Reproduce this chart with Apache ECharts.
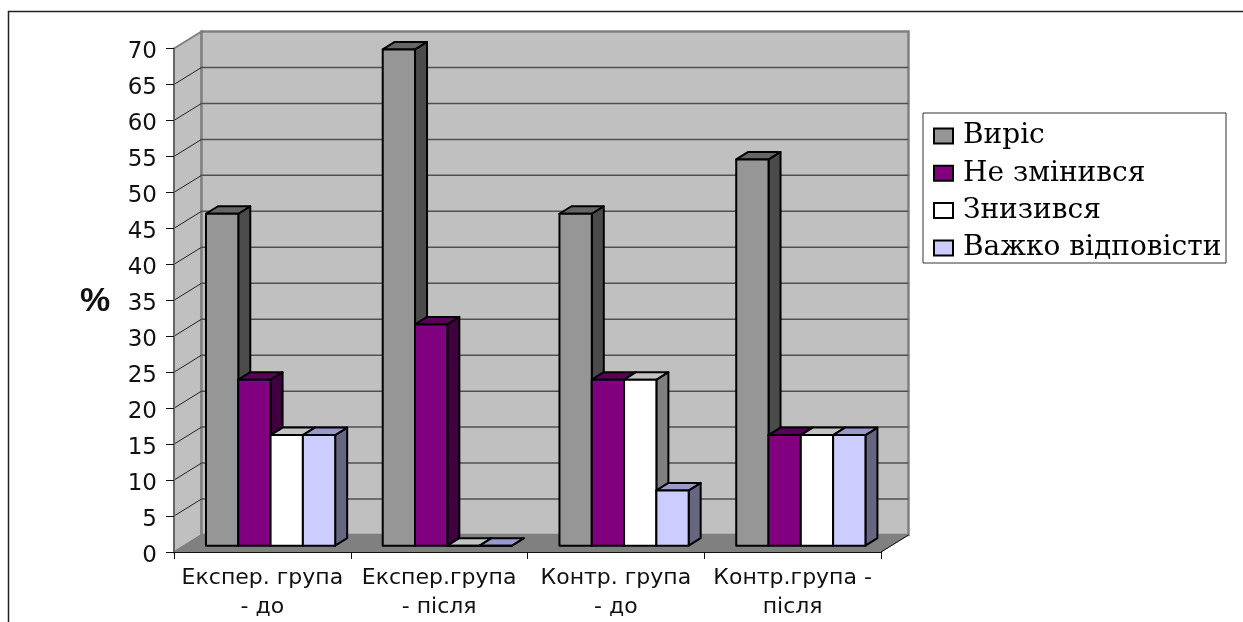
<!DOCTYPE html>
<html><head><meta charset="utf-8">
<style>html,body{margin:0;padding:0;background:#fff}#c{width:1243px;height:622px}</style>
<script src="https://cdn.jsdelivr.net/npm/echarts@6/dist/echarts.min.js"></script>
</head><body><div id="c"></div>
<script>
const categories = ['Експер. група\n- до','Експер.група\n- після','Контр. група\n- до','Контр.група -\nпісля'];
const seriesNames = ['Виріс','Не змінився','Знизився','Важко відповісти'];
const vyris = [46.15,69,46.15,53.7];
const nezminyvsia = [23.08,30.77,23.08,15.38];
const znyzyvsia = [15.38,0,23.08,15.38];
const vazhko = [15.38,0,7.69,15.38];
const yTicks = [0,5,10,15,20,25,30,35,40,45,50,55,60,65,70];
const seriesValues = [vyris,nezminyvsia,znyzyvsia,vazhko];
const faces = [
  {front:'#969696',top:'#666666',side:'#4b4b4b'},
  {front:'#800080',top:'#5a005a',side:'#400040'},
  {front:'#ffffff',top:'#c4c4c4',side:'#808080'},
  {front:'#ccccff',top:'#9999cc',side:'#666680'}
];
const WALL_DX=27.5, WALL_DY=17, BAR_W=32.3, BAR_DX=12, BAR_DY=7.5, BASE_DY=6.3, GROUP_OFF=8.2;

function wallItem(params,api){
  const cs=params.coordSys, L=cs.x, R=cs.x+cs.width, T=cs.y, B=cs.y+cs.height;
  const y=api.coord([0,api.value(0)])[1];
  const ch=[];
  if(params.dataIndex===0){
    ch.push({type:'polygon',shape:{points:[[L,T],[L+WALL_DX,T-WALL_DY],[L+WALL_DX,B-WALL_DY],[L,B]]},style:{fill:'#c0c0c0',stroke:'#808080',lineWidth:2}});
    ch.push({type:'polygon',shape:{points:[[L+WALL_DX,T-WALL_DY],[R+WALL_DX,T-WALL_DY],[R+WALL_DX,B-WALL_DY],[L+WALL_DX,B-WALL_DY]]},style:{fill:'#c0c0c0',stroke:'#808080',lineWidth:2.5}});
    ch.push({type:'polygon',shape:{points:[[L,B],[L+WALL_DX,B-WALL_DY],[R+WALL_DX,B-WALL_DY],[R,B]]},style:{fill:'#808080',stroke:'#808080',lineWidth:1}});
    ch.push({type:'line',shape:{x1:R,y1:B,x2:R+WALL_DX,y2:B-WALL_DY},style:{stroke:'#111',lineWidth:1}});
  }
  if(api.value(0)>0 && api.value(0)<70){
    ch.push({type:'line',shape:{x1:L+WALL_DX,y1:y-WALL_DY,x2:R+WALL_DX,y2:y-WALL_DY},style:{stroke:'#505050',lineWidth:1.5}});
  }
  if(api.value(0)<70){
    ch.push({type:'line',shape:{x1:L,y1:y,x2:L+WALL_DX,y2:y-WALL_DY},style:{stroke:api.value(0)===0?'#808080':'#222',lineWidth:1}});
  }
  return {type:'group',children:ch};
}
function barItem(si){
  return function(params,api){
    const c=api.coord([api.value(0),api.value(1)]);
    const c0=api.coord([api.value(0),0]);
    const x0=c[0]+GROUP_OFF+(si-2)*BAR_W, x1=x0+BAR_W, yT=c[1]-BASE_DY, yB=c0[1]-BASE_DY;
    const f=faces[si];
    const st=(fill)=>({fill,stroke:'#000',lineWidth:2,lineJoin:'round'});
    return {type:'group',children:[
      {type:'polygon',shape:{points:[[x1,yT],[x1+BAR_DX,yT-BAR_DY],[x1+BAR_DX,yB-BAR_DY],[x1,yB]]},style:st(f.side)},
      {type:'polygon',shape:{points:[[x0,yT],[x0+BAR_DX,yT-BAR_DY],[x1+BAR_DX,yT-BAR_DY],[x1,yT]]},style:st(f.top)},
      {type:'polygon',shape:{points:[[x0,yT],[x1,yT],[x1,yB],[x0,yB]]},style:st(f.front)}
    ]};
  };
}
const chart=echarts.init(document.getElementById('c'),null,{renderer:'canvas'});
chart.setOption({
  animation:false,
  backgroundColor:'#fff',
  textStyle:{fontFamily:'"Liberation Sans",Arial,sans-serif'},
  grid:{left:174,right:362,top:48.5,bottom:70,containLabel:false},
  graphic:[
    {type:'rect',z:0,shape:{x:8.5,y:11.5,width:1240,height:640},style:{fill:'none',stroke:'#222',lineWidth:1.5}},
    {type:'rect',z:0,shape:{x:923,y:113,width:303,height:150},style:{fill:'#fff',stroke:'#333',lineWidth:1}},
    {type:'text',z:5,x:95,y:302,style:{text:'%',fill:'#111',font:'bold 34px "Liberation Sans",Arial,sans-serif',textAlign:'center',textVerticalAlign:'middle'}}
  ],
  legend:{
    left:933,top:122,orient:'vertical',itemWidth:19,itemHeight:15,itemGap:9.3,padding:0,
    textStyle:{fontFamily:'"DejaVu Serif",serif',fontSize:28,color:'#000',padding:[0,0,0,5],lineHeight:28},
    data:seriesNames.map((n,i)=>({name:n,icon:'rect',itemStyle:{color:faces[i].front,borderColor:'#000',borderWidth:2}}))
  },
  xAxis:{type:'category',data:categories,boundaryGap:true,z:3,
    axisLine:{show:true,lineStyle:{color:'#111',width:1}},
    axisTick:{show:true,length:7,alignWithLabel:false,lineStyle:{color:'#111',width:1}},
    axisLabel:{color:'#111',fontFamily:'"DejaVu Sans",sans-serif',fontSize:22,margin:12,lineHeight:29,interval:0},splitLine:{show:false}},
  yAxis:{type:'value',min:0,max:70,interval:5,z:3,
    axisLine:{show:true,lineStyle:{color:'#666',width:2}},
    axisTick:{show:true,length:8,lineStyle:{color:'#111',width:1}},
    axisLabel:{color:'#111',fontFamily:'"DejaVu Sans",sans-serif',fontSize:23,margin:17,verticalAlign:'top',lineHeight:8},splitLine:{show:false}},
  series:[
    {type:'custom',name:'walls',coordinateSystem:'cartesian2d',silent:true,z:1,clip:false,data:yTicks.map(v=>[v]),encode:{y:0},renderItem:wallItem},
    ...seriesNames.map((n,si)=>({type:'custom',name:n,coordinateSystem:'cartesian2d',z:4+si,clip:false,
      itemStyle:{color:faces[si].front},
      encode:{x:0,y:1},
      data:seriesValues[si].map((v,i)=>[i,v]),renderItem:barItem(si)}))
  ]
});
</script></body></html>
